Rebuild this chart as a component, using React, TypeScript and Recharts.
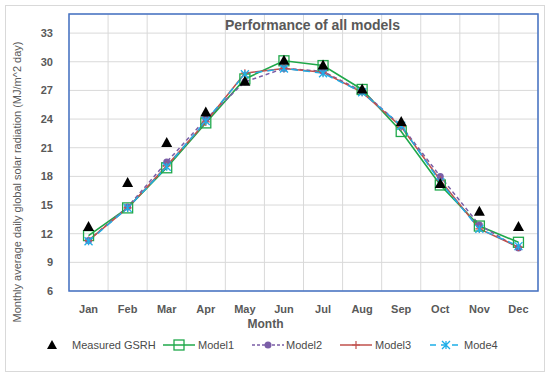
import {
  LineChart,
  Line,
  XAxis,
  YAxis,
  CartesianGrid,
  ReferenceArea,
  Legend,
} from "recharts";

const months = ["Jan", "Feb", "Mar", "Apr", "May", "Jun", "Jul", "Aug", "Sep", "Oct", "Nov", "Dec"];
const measured = [12.7, 17.3, 21.5, 24.7, 27.9, 30.1, 29.6, 27.1, 23.7, 17.2, 14.3, 12.7];
const model1 = [11.8, 14.7, 18.9, 23.6, 28.2, 30.1, 29.6, 27.1, 22.7, 17.1, 12.8, 11.1];
const model2 = [11.3, 14.8, 19.5, 24.0, 27.9, 29.3, 29.0, 26.9, 23.3, 18.0, 12.9, 10.5];
const model3 = [11.3, 14.7, 19.1, 23.7, 28.8, 29.3, 28.9, 26.8, 23.2, 17.6, 12.5, 10.6];
const model4 = [11.2, 14.7, 19.0, 23.8, 28.7, 29.3, 28.8, 26.8, 23.3, 17.4, 12.5, 10.7];
const yTicks = [6, 9, 12, 15, 18, 21, 24, 27, 30, 33];

const data = months.map((m, i) => ({
  x: i + 1,
  month: m,
  measured: measured[i],
  model1: model1[i],
  model2: model2[i],
  model3: model3[i],
  model4: model4[i],
}));

const monthTicks = months.map((_, i) => i + 1);
const gridTicks = months.slice(1).map((_, i) => i + 1.5);

const FONT = "'Liberation Sans', Arial, sans-serif";
const TXT = "#595959";
const GREEN = "#1fa84a";
const PURPLE = "#7b5ea7";
const RED = "#c0504d";
const CYAN = "#1eaee8";

const Triangle = ({ cx, cy }: any) =>
  cx == null ? null : (
    <path d={`M${cx},${cy - 6} L${cx + 5.5},${cy + 4} L${cx - 5.5},${cy + 4} Z`} fill="#000" />
  );
const Square = ({ cx, cy }: any) => (
  <rect x={cx - 5} y={cy - 5} width={10} height={10} fill="none" stroke={GREEN} strokeWidth={1.3} />
);
const Circle = ({ cx, cy }: any) => <circle cx={cx} cy={cy} r={3.5} fill={PURPLE} />;
const Plus = ({ cx, cy }: any) => (
  <path d={`M${cx},${cy - 4} V${cy + 4} M${cx - 4},${cy} H${cx + 4}`} stroke={RED} strokeWidth={1.2} />
);
const Star = ({ cx, cy }: any) => (
  <path
    d={`M${cx - 4},${cy - 4} L${cx + 4},${cy + 4} M${cx + 4},${cy - 4} L${cx - 4},${cy + 4} M${cx},${cy - 4} V${cy + 4}`}
    stroke={CYAN}
    strokeWidth={1.3}
  />
);

// legend slots: left edge of icon, left edge of text
const legendItems = [
  { name: "Measured GSRH", kind: "tri", icon: 46, text: 72 },
  { name: "Model1", kind: "m1", icon: 163, text: 198 },
  { name: "Model2", kind: "m2", icon: 252, text: 286 },
  { name: "Model3", kind: "m3", icon: 340, text: 375 },
  { name: "Mode4", kind: "m4", icon: 430, text: 464 },
];

function LegendIcon({ kind }: { kind: string }) {
  if (kind === "tri")
    return (
      <svg width={12} height={12}>
        <path d="M6,1 L11,10 L1,10 Z" fill="#000" />
      </svg>
    );
  const w = 32;
  const c = { m1: GREEN, m2: PURPLE, m3: RED, m4: CYAN }[kind] as string;
  const dash = kind === "m2" ? "3 2" : kind === "m4" ? "6 5" : undefined;
  return (
    <svg width={w} height={12}>
      <line x1={0} y1={6} x2={w} y2={6} stroke={c} strokeWidth={1.5} strokeDasharray={dash} />
      {kind === "m1" && <Square cx={16} cy={6} />}
      {kind === "m2" && <Circle cx={16} cy={6} />}
      {kind === "m3" && <Plus cx={16} cy={6} />}
      {kind === "m4" && <Star cx={16} cy={6} />}
    </svg>
  );
}

const renderLegend = () => (
  <div style={{ position: "relative", height: 20, width: 550, fontFamily: FONT, fontSize: 11, color: "#4a4a4a", fontWeight: 400 }}>
    {legendItems.map((it) => (
      <div key={it.name}>
        <div style={{ position: "absolute", left: it.icon, top: 4, height: 12, lineHeight: 0 }}>
          <LegendIcon kind={it.kind} />
        </div>
        <span style={{ position: "absolute", left: it.text, top: 3, lineHeight: "14px", whiteSpace: "nowrap" }}>{it.name}</span>
      </div>
    ))}
  </div>
);

const YLabel = () => (
  <text
    x={18}
    y={182}
    transform="rotate(-90, 18, 182)"
    textAnchor="middle"
    dominantBaseline="middle"
    fill={TXT}
    fontFamily={FONT}
    fontSize={11}
  >
    Monthly average daily global solar radiation (MJ/m^2 day)
  </text>
);

export default function App() {
  return (
    <div style={{ position: "absolute", left: 0, top: 0, width: 550, height: 377, background: "#fff" }}>
      <div
        style={{
          position: "absolute",
          left: 5,
          top: 5,
          width: 538,
          height: 365,
          border: "1px solid #d9d9d9",
        }}
      />
      <LineChart
        width={550}
        height={377}
        data={data}
        margin={{ top: 14, right: 12, bottom: 22, left: 0 }}
        style={{ position: "absolute", left: 0, top: 0 }}
      >
        <XAxis
          xAxisId="grid"
          dataKey="x"
          type="number"
          domain={[0.5, 12.5]}
          ticks={gridTicks}
          hide
        />
        <CartesianGrid xAxisId="grid" stroke="#d9d9d9" strokeWidth={1} />
        <XAxis
          dataKey="x"
          type="number"
          domain={[0.5, 12.5]}
          ticks={monthTicks}
          tickFormatter={(v) => months[v - 1]}
          height={44}
          axisLine={false}
          tickLine={false}
          tickMargin={8}
          tick={{ fill: TXT, fontFamily: FONT, fontSize: 11, fontWeight: 600 }}
          label={{
            value: "Month",
            position: "insideBottom",
            offset: 7,
            dx: -38,
            fill: TXT,
            fontFamily: FONT,
            fontSize: 12,
            fontWeight: 700,
          }}
        />
        <YAxis
          type="number"
          domain={[6, 35]}
          ticks={yTicks}
          width={69}
          axisLine={false}
          tickLine={false}
          tickMargin={10}
          tick={{ fill: TXT, fontFamily: FONT, fontSize: 11, fontWeight: 600 }}
          label={<YLabel />}
        />
        <ReferenceArea
          x1={0.5}
          x2={12.5}
          y1={6}
          y2={35}
          fill="none"
          stroke="#4472c4"
          strokeWidth={1.5}
          fillOpacity={0}
          label={{
            value: "Performance of all models",
            position: "insideTop",
            offset: 6,
            dx: 9,
            fill: TXT,
            fontFamily: FONT,
            fontSize: 14,
            fontWeight: 700,
          }}
        />
        <Line dataKey="model1" stroke={GREEN} strokeWidth={1.6} dot={<Square />} isAnimationActive={false} />
        <Line dataKey="model2" stroke={PURPLE} strokeWidth={1.5} strokeDasharray="4 3" dot={<Circle />} isAnimationActive={false} />
        <Line dataKey="model3" stroke={RED} strokeWidth={1.5} dot={<Plus />} isAnimationActive={false} />
        <Line dataKey="model4" stroke={CYAN} strokeWidth={1.5} strokeDasharray="7 5" dot={<Star />} isAnimationActive={false} />
        <Line dataKey="measured" stroke="none" dot={<Triangle />} activeDot={false} legendType="none" isAnimationActive={false} />
        <Legend verticalAlign="bottom" content={renderLegend} />
      </LineChart>
    </div>
  );
}
